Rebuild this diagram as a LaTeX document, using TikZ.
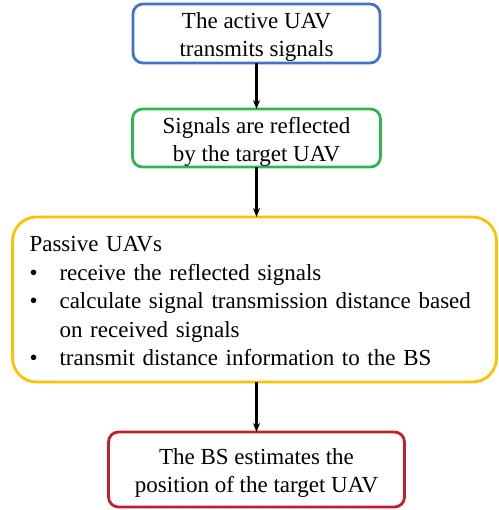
\documentclass[tikz,border=0pt]{standalone}
\usepackage{fontspec}
\setmainfont{Liberation Serif}
\usepackage{tikz}
\usetikzlibrary{arrows.meta, positioning, arrows, calc}

\definecolor{boxblue}{HTML}{4472C4}
\definecolor{boxgreen}{HTML}{2EB450}
\definecolor{boxyellow}{HTML}{FFC000}
\definecolor{boxred}{HTML}{C0202C}

% extra room above the first line of a box
\newcommand{\toproom}[1][23pt]{\rule{0pt}{#1}}

\begin{document}
\begin{tikzpicture}[
                    >={Stealth[length=9pt,width=7pt]},
                    flow/.style={->, line width=2.2pt, black},
                    stepbox/.style={draw, line width=2.8pt, rounded corners=10pt, align=center, outer sep=0pt,
                                    font=\fontsize{23}{28}\selectfont, inner xsep=2pt, inner ysep=0pt},
                   ]
                   \useasboundingbox (0pt,0pt) rectangle (498pt,-510pt);
                   \node[stepbox, boxblue, text=black, minimum width=247pt, minimum height=59pt]
                        (active) at (256.5pt,-33.5pt) {\toproom The active UAV\\transmits signals};
                   \node[stepbox, boxgreen, text=black, minimum width=248pt, minimum height=58pt,
                         below=46pt of active] (reflect) {\toproom Signals are reflected\\by the target UAV};
                   % the passive UAVs with their three tasks
                   \node[stepbox, boxyellow, text=black, rounded corners=24pt, minimum width=484pt,
                         minimum height=165pt, text width=450pt, align=left, inner xsep=17pt,
                         font=\fontsize{23}{28.5}\selectfont, below=50pt of reflect, xshift=-2pt] (passive) {%
                        \begin{tabular}{@{}l@{\hspace{22pt}}l@{}}
                        \multicolumn{2}{@{}l}{\toproom[27pt]Passive UAVs}\\
                        \textbullet & receive the reflected signals\\
                        \textbullet & calculate signal transmission distance based\\
                                    & on received signals\\
                        \textbullet & transmit distance information to the BS
                        \end{tabular}};
                   \node[stepbox, boxred, text=black, minimum width=296pt, minimum height=75pt,
                         below=50pt of passive, xshift=2pt] (estimate) {\toproom The BS estimates the\\position of the target UAV};
                   \draw[flow] (active) -- (reflect);
                   \draw[flow] (reflect) -- (reflect |- passive.north);
                   \draw[flow] (reflect |- passive.south) -- (estimate);
\end{tikzpicture}
\end{document}
